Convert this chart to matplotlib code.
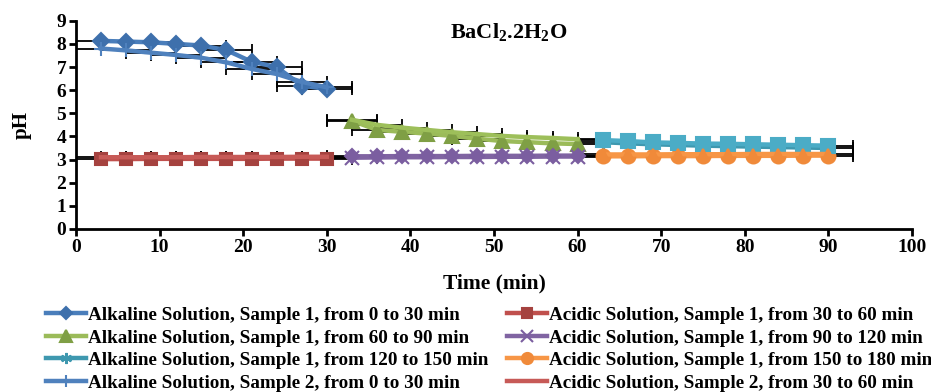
import matplotlib
matplotlib.use("Agg")
import matplotlib.pyplot as plt

plt.rcParams['font.family'] = 'Liberation Serif'
plt.rcParams['font.weight'] = 'bold'
plt.rcParams['mathtext.fontset'] = 'custom'
plt.rcParams['mathtext.rm'] = 'Liberation Serif:bold'
plt.rcParams['mathtext.it'] = 'Liberation Serif:bold'
plt.rcParams['mathtext.bf'] = 'Liberation Serif:bold'

# time points (min)
t_first = [3, 6, 9, 12, 15, 18, 21, 24, 27, 30]
t_second = [33, 36, 39, 42, 45, 48, 51, 54, 57, 60]
t_third = [63, 66, 69, 72, 75, 78, 81, 84, 87, 90]
time_err = 3

# pH values
alk_s1_0_30 = [8.13, 8.1, 8.07, 8.0, 7.93, 7.73, 7.23, 7.0, 6.2, 6.05]
alk_s2_0_30 = [7.8, 7.72, 7.62, 7.52, 7.4, 7.2, 6.92, 6.7, 6.36, 6.12]
acid_s1_30_60 = [3.02, 3.02, 3.03, 3.03, 3.03, 3.03, 3.03, 3.04, 3.04, 3.04]
acid_s2_30_60 = [3.1, 3.1, 3.1, 3.1, 3.11, 3.11, 3.11, 3.11, 3.12, 3.12]
alk_s1_60_90 = [4.68, 4.28, 4.2, 4.12, 4.02, 3.9, 3.8, 3.75, 3.7, 3.67]
alk_s2_60_90 = [4.72, 4.5, 4.38, 4.28, 4.18, 4.1, 4.02, 3.97, 3.93, 3.88]
acid_s1_90_120 = [3.08, 3.09, 3.1, 3.1, 3.11, 3.11, 3.12, 3.12, 3.13, 3.13]
acid_s2_90_120 = [3.14, 3.14, 3.15, 3.15, 3.15, 3.16, 3.16, 3.16, 3.17, 3.17]
alk_s1_120_150 = [3.75, 3.7, 3.66, 3.63, 3.6, 3.58, 3.56, 3.54, 3.52, 3.5]
alk_s2_120_150 = [3.84, 3.8, 3.74, 3.72, 3.69, 3.68, 3.66, 3.64, 3.62, 3.6]
acid_s1_150_180 = [3.14, 3.14, 3.15, 3.15, 3.15, 3.16, 3.16, 3.16, 3.17, 3.17]
acid_s2_150_180 = [3.22, 3.22, 3.22, 3.23, 3.23, 3.23, 3.24, 3.24, 3.24, 3.24]

labels = [
    "Alkaline Solution, Sample 1, from 0 to 30 min",
    "Acidic Solution, Sample 1, from 30 to 60 min",
    "Alkaline Solution, Sample 1, from 60 to 90 min",
    "Acidic Solution, Sample 1, from 90 to 120 min",
    "Alkaline Solution, Sample 1, from 120 to 150 min",
    "Acidic Solution, Sample 1, from 150 to 180 min",
    "Alkaline Solution, Sample 2, from 0 to 30 min",
    "Acidic Solution, Sample 2, from 30 to 60 min",
]

fig = plt.figure(figsize=(9.31, 3.92), dpi=100)
ax = fig.add_axes([0.0816, 0.416, 0.898, 0.531])

# (x, y, line colour, marker, marker colour, marker size, legend index)
series = [
    (t_first, alk_s1_0_30, '#4A7EBB', 'D', '#3E70AC', 8, 0),
    (t_first, acid_s1_30_60, '#C0504D', 's', '#A5423F', 9, 1),
    (t_second, alk_s1_60_90, '#9BBB59', '^', '#7F9F45', 10, 2),
    (t_second, acid_s1_90_120, '#8064A2', 'x', '#7B5EA0', 10, 3),
    (t_third, alk_s1_120_150, '#3E98AF', (6, 2, 0), '#3E98AF', 10, 4),
    (t_third, acid_s1_150_180, '#F79646', 'o', '#F08A3A', 10, 5),
    (t_first, alk_s2_0_30, '#4F81BD', '+', '#4F81BD', 10, 6),
    (t_first, acid_s2_30_60, '#C75A57', None, None, 0, 7),
    (t_second, alk_s2_60_90, '#9DBF5A', None, None, 0, None),
    (t_second, acid_s2_90_120, '#8064A2', 'D', '#7B5EA0', 7, None),
    (t_third, alk_s2_120_150, '#4BACC6', 's', '#4BACC6', 10, None),
    (t_third, acid_s2_150_180, '#F79646', '^', '#F08A3A', 7, None),
]

handles = [None] * 8
for x, y, col, mk, mcol, ms, idx in series:
    ax.errorbar(x, y, xerr=time_err, fmt='none', ecolor='black',
                elinewidth=1.3, capsize=4, capthick=1.3, zorder=1)
for i, (x, y, col, mk, mcol, ms, idx) in enumerate(series):
    line, = ax.plot(x, y, color=col, lw=3.2, marker=mk, ms=ms,
                    mfc=mcol, mec=mcol, mew=1.5, zorder=2 + i * 0.1)
    if idx is not None:
        handles[idx] = line

ax.set_xlim(0, 100)
ax.set_ylim(0, 9)
ax.set_xticks(range(0, 101, 10))
ax.set_yticks(range(0, 10))
ax.spines['top'].set_visible(False)
ax.spines['right'].set_visible(False)
ax.spines['left'].set_linewidth(2)
ax.spines['bottom'].set_linewidth(2)
ax.tick_params(direction='out', length=5, width=2, labelsize=14, pad=2)
ax.set_xlabel('Time (min)', fontsize=15.5, fontweight='bold', labelpad=13)
ax.set_ylabel('pH', fontsize=15, fontweight='bold', labelpad=18)

ax.text(51.7, 8.5, r'$\mathrm{BaCl_2.2H_2O}$', ha='center', va='center', fontsize=16)

order = [0, 2, 4, 6, 1, 3, 5, 7]
fig.legend([handles[i] for i in order], [labels[i] for i in order],
           ncol=2, loc='upper left', bbox_to_anchor=(0.049, 0.218),
           frameon=False, fontsize=13.8, handlelength=2.1, handletextpad=0.12,
           columnspacing=0.95, labelspacing=0.27, borderpad=0,
           borderaxespad=0, markerscale=0.8)

fig.savefig('out.png', dpi=100)
